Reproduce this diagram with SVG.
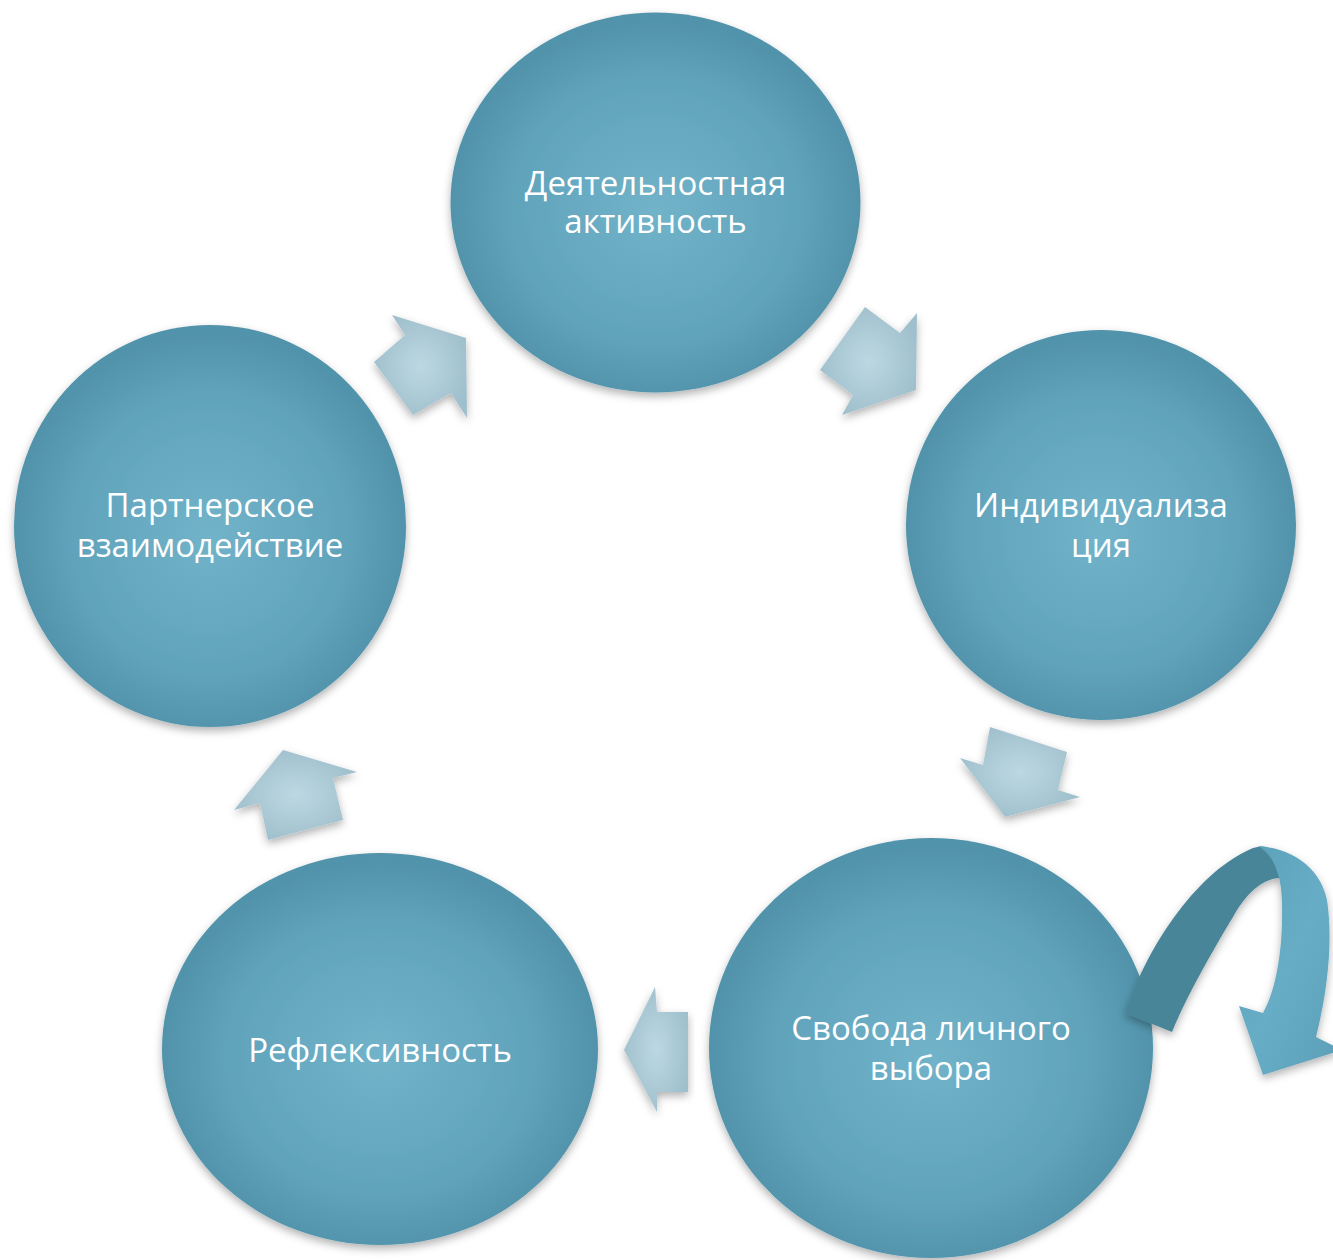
<svg xmlns="http://www.w3.org/2000/svg" width="1333" height="1260" viewBox="0 0 1333 1260">
<defs>
<radialGradient id="gC" cx="50%" cy="52%" r="50%">
<stop offset="0" stop-color="#71b3c9"/>
<stop offset="0.7" stop-color="#60a3bb"/>
<stop offset="1" stop-color="#5193ab"/>
</radialGradient>
<radialGradient id="gA" cx="50%" cy="50%" r="55%">
<stop offset="0" stop-color="#bcd8e2"/>
<stop offset="1" stop-color="#9fbfcc"/>
</radialGradient>
<linearGradient id="gR" x1="0" y1="0" x2="1" y2="1">
<stop offset="0" stop-color="#5aa0b8"/>
<stop offset="0.5" stop-color="#67adc5"/>
<stop offset="1" stop-color="#5a9fb7"/>
</linearGradient>
<filter id="sh" x="-10%" y="-10%" width="120%" height="125%">
<feDropShadow dx="0" dy="4" stdDeviation="4" flood-color="#000" flood-opacity="0.3"/>
</filter>
</defs>
<style>
.c{fill:url(#gC);filter:url(#sh)}
.a{fill:url(#gA);filter:url(#sh)}
.t{font-family:"Open Sans","Noto Sans","DejaVu Sans",sans-serif;font-size:33px;fill:#ffffff;text-anchor:middle}
</style>
<rect width="1333" height="1260" fill="#ffffff"/>
<g id="connectors">
<polygon class="a" points="392,315 405,335 374,362 413,415 451,393 467,418 466,338"/>
<polygon class="a" points="865,307 900,333 917,313 916,390 842,415 853,395 820,370"/>
<polygon class="a" points="990,727 1067,752 1058,790 1080,797 1005,817 960,758 983,765"/>
<polygon class="a" points="655,987 657,1012 688,1012 688,1092 657,1092 657,1112 624,1050"/>
<polygon class="a" points="283,750 357,772 333,778 343,820 268,840 260,803 234,810"/>
</g>
<g id="node-top">
<ellipse class="c" cx="655.5" cy="202.5" rx="205" ry="190"/>
<text class="t" x="655.5" y="195">Деятельностная</text>
<text class="t" x="655.5" y="233">активность</text>
</g>
<g id="node-right">
<ellipse class="c" cx="1101" cy="525" rx="195" ry="195"/>
<text class="t" x="1101" y="517">Индивидуализа</text>
<text class="t" x="1101" y="557">ция</text>
</g>
<g id="node-bottom-right">
<ellipse class="c" cx="931" cy="1048" rx="222" ry="210"/>
<text class="t" x="931" y="1040">Свобода личного</text>
<text class="t" x="931" y="1080">выбора</text>
</g>
<g id="node-bottom-left">
<ellipse class="c" cx="380" cy="1049" rx="218" ry="196"/>
<text class="t" x="380" y="1062">Рефлексивность</text>
</g>
<g id="node-left">
<ellipse class="c" cx="210" cy="526" rx="196" ry="201"/>
<text class="t" x="210" y="517">Партнерское</text>
<text class="t" x="210" y="557">взаимодействие</text>
</g>
<g id="curved-arrow" filter="url(#sh)">
<path fill="#4a8599" d="M1125,1013 C1150,940 1200,870 1253,848 Q1272,842 1279,860 L1281,878 C1262,878 1245,895 1233,917 C1210,955 1185,1000 1172,1032 Z"/>
<path fill="url(#gR)" d="M1258,846 C1290,848 1320,866 1327,900 C1333,940 1328,990 1316,1037 L1342,1050 L1263,1075 L1239,1006 L1263,1013 C1276,990 1283,950 1282,905 C1282,880 1276,856 1258,846 Z"/>
</g>
</svg>
